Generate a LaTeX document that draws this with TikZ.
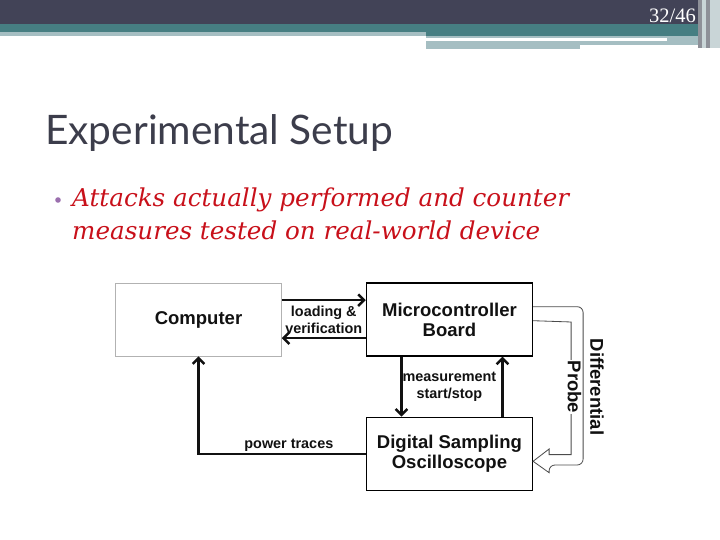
\documentclass[tikz,border=0pt]{standalone}
\usepackage{fontspec}
\setmainfont{Liberation Sans}
\newfontfamily\titlefont{Lato}
\newfontfamily\bodyfont{DejaVu Serif}
\newfontfamily\numfont{Liberation Serif}
\usetikzlibrary{positioning}
\usetikzlibrary{calc}
\usetikzlibrary{arrows.meta}

\definecolor{hdark}{HTML}{424357}
\definecolor{hteal}{HTML}{467E82}
\definecolor{hlight}{HTML}{A5BEC2}
\definecolor{hpale}{HTML}{C9D5D7}
\definecolor{hgrey}{HTML}{8E9098}
\definecolor{titlec}{HTML}{3C3D4B}
\definecolor{bodyc}{HTML}{C8101A}
\definecolor{bulletc}{HTML}{9B6FAE}
\definecolor{lblc}{HTML}{111111}

\tikzset{
  block/.style={draw=black, line width=1.1pt, minimum width=4.98cm, minimum height=2.19cm,
    font=\fontsize{15.8}{17}\selectfont\bfseries, align=center, text=lblc},
  lbl/.style={font=\fontsize{12.3}{14.3}\selectfont\bfseries, align=center, text=lblc, inner sep=1pt},
  flow/.style={line width=2.1pt, draw=lblc, -{Straight Barb[length=5pt,width=10pt]}},
  probe/.style={line width=0.7pt, draw=gray!60!black},
}

\begin{document}
\begin{tikzpicture}[x=0.03cm, y=-0.03cm]
   \useasboundingbox (0,0) rectangle (720,540);

   % slide header
   \fill[hdark] (0,0) rectangle (720,24);
   \fill[hteal] (0,24) rectangle (698,32);
   \fill[hteal] (426,32) rectangle (698,36);
   \fill[hlight] (0,32) rectangle (426,36);
   \fill[hlight] (426,36) rectangle (698,45);
   \fill[white] (426,38.5) rectangle (667,41.5);
   \fill[hlight] (426,45) rectangle (580,49);
   \fill[hgrey] (698,0) rectangle (702,48);
   \fill[hpale] (702,0) rectangle (706,48);
   \fill[hgrey] (706,0) rectangle (710,48);
   \fill[hpale] (710,0) rectangle (720,48);
   \node[text=white, font=\numfont\fontsize{17.5}{19}\selectfont, anchor=base east, inner sep=0] (pagenum) at (696,23) {32/46};

   % title and bullet
   \node[text=titlec, font=\titlefont\fontsize{34.7}{38}\selectfont, anchor=base west, inner sep=0] (title) at (45,145) {Experimental Setup};
   \fill[bulletc] (58,200) circle[radius=2.8];
   \node[text=bodyc, font=\bodyfont\itshape\fontsize{21}{27.8}\selectfont, anchor=base west, inner sep=0] (line1) at (72,206.7) {Attacks actually performed and counter};
   \node[text=bodyc, font=\bodyfont\itshape\fontsize{21}{27.8}\selectfont, anchor=base west, inner sep=0] (line2) at (72,239.3) {measures tested on real-world device};

   % blocks
   \node[block, draw=gray!60, line width=0.5pt] (comp) at (198.5,319.5) {Computer};
   \node[block, right=2.52cm of comp] (micro) {Microcontroller\\Board};
   \node[block, below=1.8cm of micro] (osc) {Digital Sampling\\Oscilloscope};

   % connectors
   \draw[flow] ([yshift=0.58cm]comp.east) -- ([yshift=0.58cm]micro.west);
   \draw[flow] ([yshift=-0.56cm]micro.west) -- ([yshift=-0.56cm]comp.east);
   \node[lbl] (loadlbl) at ($(comp.east)!0.5!(micro.west)$) {loading \&\\verification};

   \draw[flow] ([xshift=-1.44cm]micro.south) -- ([xshift=-1.44cm]osc.north);
   \draw[flow] ([xshift=1.59cm]osc.north) -- ([xshift=1.59cm]micro.south);
   \node[lbl] (measlbl) at ($(micro.south)!0.5!(osc.north)$) {measurement\\start/stop};

   \draw[flow] (osc.west) -| node[lbl, above, pos=0.23] (powlbl) {power traces} (comp.south);

   % differential probe (hollow arrow)
   \draw[probe, rounded corners=5pt] ([yshift=0.384cm]micro.east) -- ++(50,0) -- ++(0,158.3) -- ++(-34,0)
      [sharp corners] -- ++(0,7.7) -- ([yshift=-0.225cm]osc.east) -- ++(16,-12.3) -- ++(0,5.6)
      -- ++(22,0) -- ++(0,-132.6) -- ([yshift=-0.036cm]micro.east);
   \node[font=\fontsize{15.8}{17}\selectfont\bfseries, text=lblc, rotate=-90, inner sep=1pt] (difflbl) at (597,387) {Differential};
   \node[font=\fontsize{15.8}{17}\selectfont\bfseries, text=lblc, rotate=-90, fill=white, inner sep=1pt] (problbl) at (574.5,387) {Probe};
\end{tikzpicture}
\end{document}
